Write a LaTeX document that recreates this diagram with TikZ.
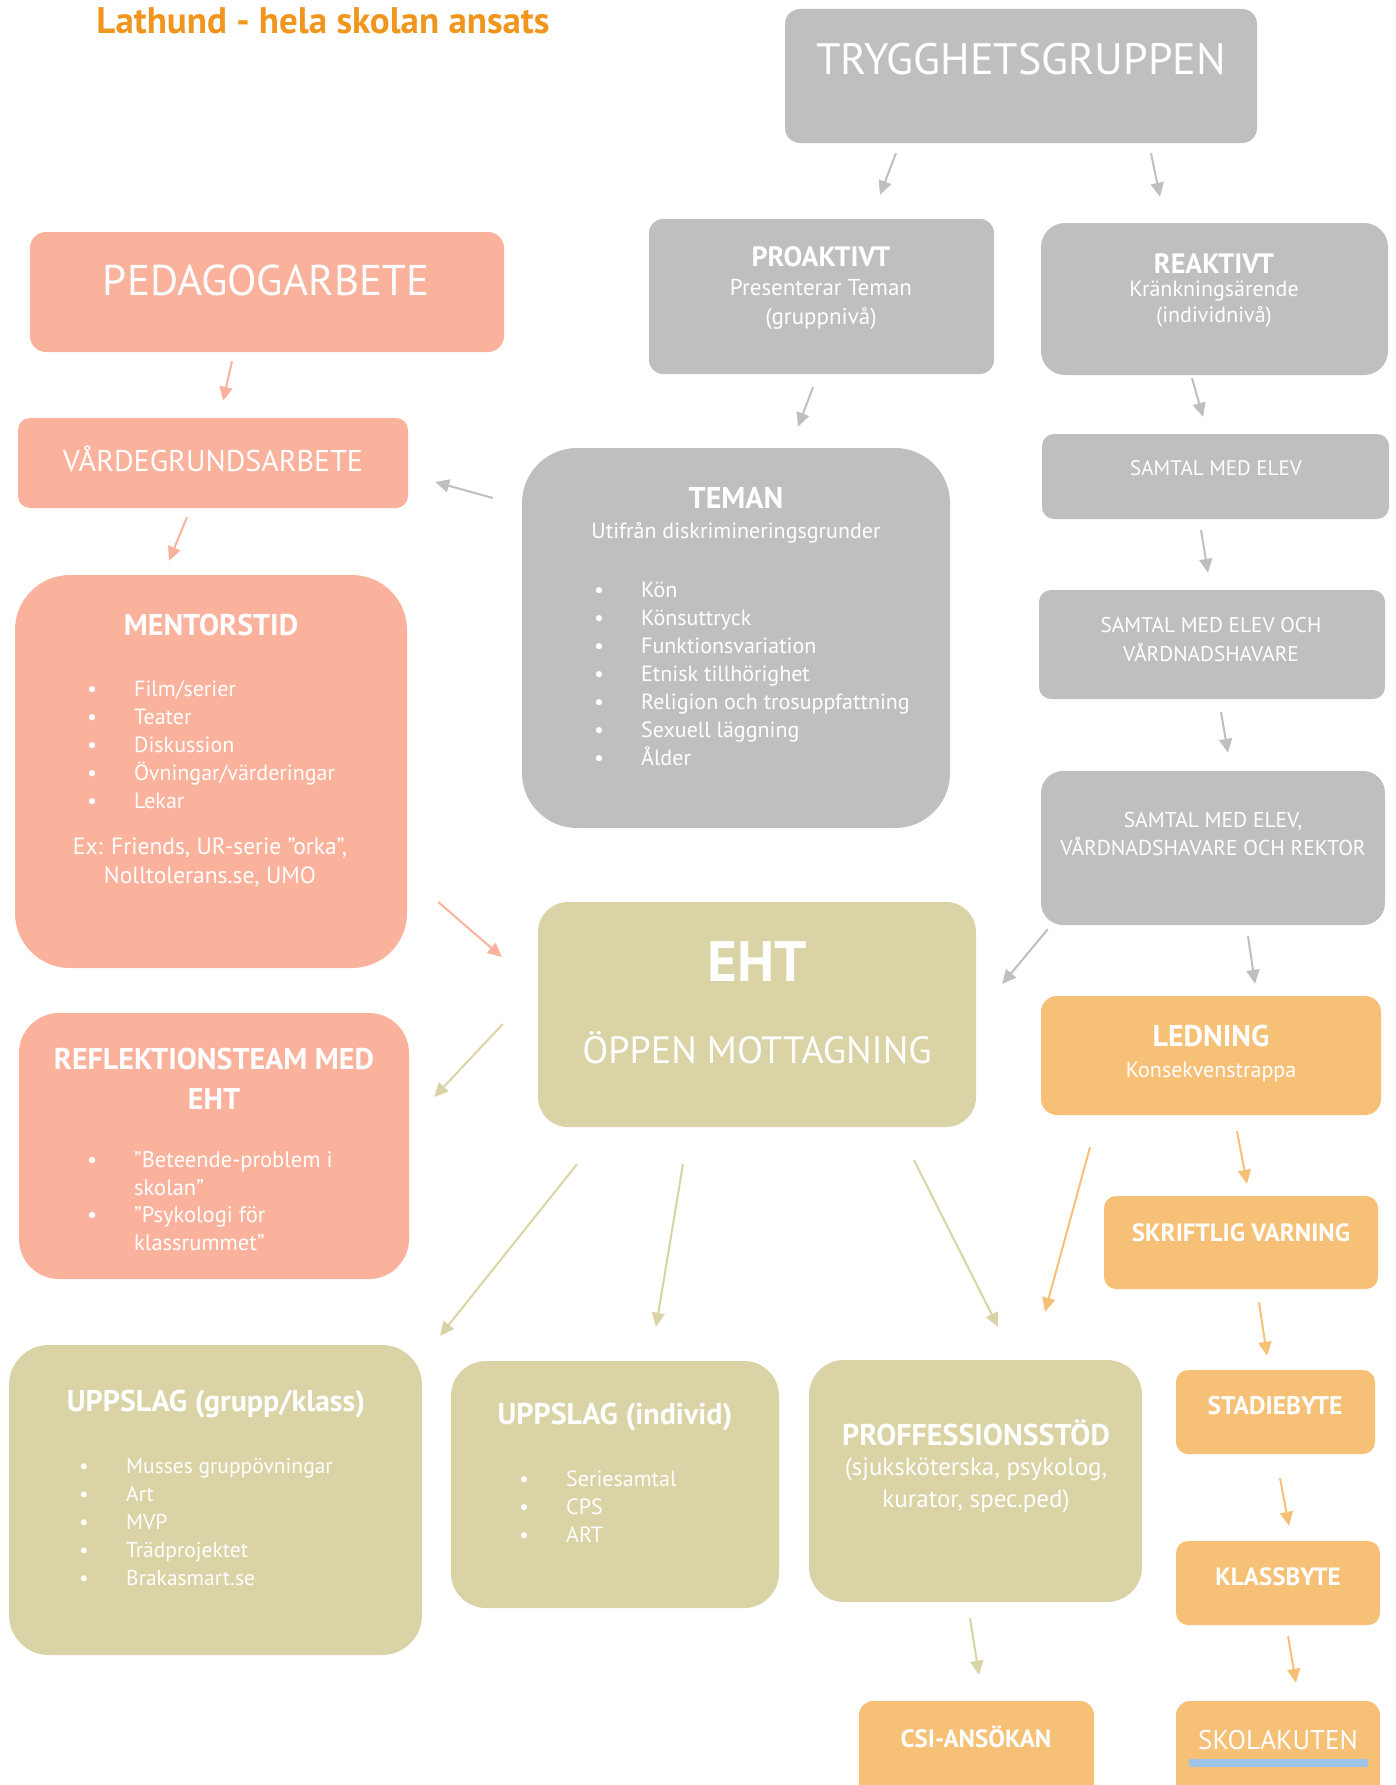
\documentclass[tikz,border=0pt]{standalone}
\usepackage{fontspec}
\setmainfont{PT Sans}
\usetikzlibrary{positioning,arrows.meta}

\definecolor{grau}{HTML}{BFBFBF}
\definecolor{lachs}{HTML}{FBB29D}
\definecolor{oliv}{HTML}{D9D3A6}
\definecolor{gelb}{HTML}{F6C177}
\definecolor{titel}{HTML}{F0961E}
\definecolor{balk}{HTML}{9DC3E6}

\newcommand{\bul}[1]{\makebox[47pt][l]{\textbullet}#1}

\tikzset{
	gbox/.style={fill=grau,inner sep=0pt},
	sbox/.style={fill=lachs,inner sep=0pt},
	obox/.style={fill=oliv,inner sep=0pt},
	ybox/.style={fill=gelb,inner sep=0pt},
	wtxt/.style={text=white,inner sep=0pt,align=center,font=\fontsize{22}{28}\selectfont},
	whead/.style={text=white,inner sep=0pt,align=center,font=\bfseries\fontsize{30}{34}\selectfont},
	wlist/.style={text=white,inner sep=0pt,align=left,anchor=west,font=\fontsize{22}{28}\selectfont},
	garr/.style={draw=grau,line width=2pt},
	sarr/.style={draw=lachs,line width=2pt},
	oarr/.style={draw=oliv,line width=2pt},
	yarr/.style={draw=gelb,line width=2pt}
}

\begin{document}
\begin{tikzpicture}[x=1pt,y=-1pt,>={Triangle[length=14pt,width=13pt]},->]
	\useasboundingbox (0,0) rectangle (1395,1785);

	% boxes
	\node[gbox,rounded corners=15pt,minimum width=472pt,minimum height=134pt]	(trygg)	at	(1021,76)		{};
	\node[gbox,rounded corners=14pt,minimum width=345pt,minimum height=155pt]	(proakt)	at	(821.5,296.5)	{};
	\node[gbox,rounded corners=24pt,minimum width=347pt,minimum height=152pt]	(reakt)	at	(1214.5,299)	{};
	\node[sbox,rounded corners=16pt,minimum width=474pt,minimum height=120pt]	(pedag)	at	(267,292)		{};
	\node[sbox,rounded corners=12pt,minimum width=390pt,minimum height=90pt]	(varde)	at	(213,463)		{};
	\node[gbox,rounded corners=55pt,minimum width=428pt,minimum height=380pt]	(teman)	at	(736,638)		{};
	\node[gbox,rounded corners=12pt,minimum width=347pt,minimum height=85pt]	(samt1)	at	(1215.5,476.5)	{};
	\node[gbox,rounded corners=12pt,minimum width=346pt,minimum height=109pt]	(samt2)	at	(1212,644.5)	{};
	\node[gbox,rounded corners=22pt,minimum width=344pt,minimum height=154pt]	(samt3)	at	(1213,848)		{};
	\node[sbox,rounded corners=55pt,minimum width=392pt,minimum height=393pt]	(mentor)	at	(211,771.5)		{};
	\node[obox,rounded corners=30pt,minimum width=438pt,minimum height=225pt]	(eht)	at	(757,1014.5)	{};
	\node[ybox,rounded corners=16pt,minimum width=340pt,minimum height=119pt]	(ledn)	at	(1211,1055.5)	{};
	\node[sbox,rounded corners=40pt,minimum width=390pt,minimum height=266pt]	(refl)	at	(214,1146)		{};
	\node[ybox,rounded corners=12pt,minimum width=274pt,minimum height=93pt]	(skrift)	at	(1241,1242.5)	{};
	\node[obox,rounded corners=40pt,minimum width=413pt,minimum height=310pt]	(uppg)	at	(215.5,1500)	{};
	\node[obox,rounded corners=35pt,minimum width=328pt,minimum height=247pt]	(uppi)	at	(615,1484.5)	{};
	\node[obox,rounded corners=35pt,minimum width=333pt,minimum height=242pt]	(proff)	at	(975.5,1481)	{};
	\node[ybox,rounded corners=12pt,minimum width=199pt,minimum height=84pt]	(stad)	at	(1275.5,1412)	{};
	\node[ybox,rounded corners=12pt,minimum width=204pt,minimum height=84pt]	(klass)	at	(1278,1583)		{};
	\node[ybox,rounded corners=14pt,minimum width=235pt,minimum height=110pt]	(csi)	at	(976.5,1756)	{};
	\node[ybox,rounded corners=14pt,minimum width=204pt,minimum height=110pt]	(skol)	at	(1278,1756)		{};

	% texts
	\node[inner sep=0pt,text=titel,font=\bfseries\fontsize{37}{40}\selectfont]	(titel)	at	(323,21)	{Lathund - hela skolan ansats};
	\node[wtxt,font=\fontsize{44}{50}\selectfont]	(trygg-t)	at	(1021,59)	{TRYGGHETSGRUPPEN};
	\node[whead,font=\bfseries\fontsize{28}{34}\selectfont]	(proakt-h)	at	(821,257)	{PROAKTIVT};
	\node[wtxt,font=\fontsize{23}{29}\selectfont]	(proakt-t)	at	(821,304.5)	{Presenterar Teman\\(gruppnivå)};
	\node[whead,font=\bfseries\fontsize{28}{34}\selectfont]	(reakt-h)	at	(1214,264)	{REAKTIVT};
	\node[wtxt,font=\fontsize{22}{26}\selectfont]	(reakt-t)	at	(1214,304)	{Kränkningsärende\\(individnivå)};
	\node[wtxt,font=\fontsize{43}{48}\selectfont]	(pedag-t)	at	(266,280)	{PEDAGOGARBETE};
	\node[wtxt,font=\fontsize{30}{32}\selectfont]	(varde-t)	at	(213,459)	{VÅRDEGRUNDSARBETE};
	\node[whead]	(teman-h)	at	(736,498)	{TEMAN};
	\node[wtxt]	(teman-t)	at	(736,533)	{Utifrån diskrimineringsgrunder};
	\node[wlist]	(teman-l)	at	(594,674)	{\bul{Kön}\\\bul{Könsuttryck}\\\bul{Funktionsvariation}\\\bul{Etnisk tillhörighet}\\\bul{Religion och trosuppfattning}\\\bul{Sexuell läggning}\\\bul{Ålder}};
	\node[wtxt,font=\fontsize{21}{29}\selectfont]	(samt1-t)	at	(1216,468)	{SAMTAL MED ELEV};
	\node[wtxt,font=\fontsize{21.3}{29}\selectfont]	(samt2-t)	at	(1211,639.5)	{SAMTAL MED ELEV OCH\\VÅRDNADSHAVARE};
	\node[wtxt,font=\fontsize{21.5}{28}\selectfont]	(samt3-t)	at	(1213,834)	{SAMTAL MED ELEV,\\VÅRDNADSHAVARE OCH REKTOR};
	\node[whead]	(mentor-h)	at	(211,625)	{MENTORSTID};
	\node[wlist]	(mentor-l)	at	(87,744.5)	{\bul{Film/serier}\\\bul{Teater}\\\bul{Diskussion}\\\bul{Övningar/värderingar}\\\bul{Lekar}};
	\node[wtxt,font=\fontsize{23.5}{29}\selectfont]	(mentor-t)	at	(210,862.5)	{Ex: Friends, UR-serie ”orka”,\\Nolltolerans.se, UMO};
	\node[wtxt,font=\bfseries\fontsize{57}{66}\selectfont]	(eht-h)	at	(757,962)	{EHT};
	\node[wtxt,font=\fontsize{38}{42}\selectfont]	(eht-t)	at	(757,1048)	{ÖPPEN MOTTAGNING};
	\node[whead]	(ledn-h)	at	(1211,1036)	{LEDNING};
	\node[wtxt]	(ledn-t)	at	(1211,1072)	{Konsekvenstrappa};
	\node[whead,font=\bfseries\fontsize{30}{40}\selectfont]	(refl-h)	at	(214,1079)	{REFLEKTIONSTEAM MED\\EHT};
	\node[wlist,font=\fontsize{22.5}{27.5}\selectfont]	(refl-l)	at	(87,1201)	{\bul{”Beteende-problem i}\\\hspace*{47pt}skolan”\\\bul{”Psykologi för}\\\hspace*{47pt}klassrummet”};
	\node[whead,font=\bfseries\fontsize{25}{28}\selectfont]	(skrift-t)	at	(1241,1233)	{SKRIFTLIG VARNING};
	\node[whead]	(uppg-h)	at	(216,1404)	{UPPSLAG (grupp/klass)};
	\node[wlist,font=\fontsize{21.5}{28}\selectfont]	(uppg-l)	at	(79,1522)	{\bul{Musses gruppövningar}\\\bul{Art}\\\bul{MVP}\\\bul{Trädprojektet}\\\bul{Brakasmart.se}};
	\node[whead]	(uppi-h)	at	(615,1417)	{UPPSLAG (individ)};
	\node[wlist]	(uppi-l)	at	(519,1507)	{\bul{Seriesamtal}\\\bul{CPS}\\\bul{ART}};
	\node[whead]	(proff-h)	at	(976,1433)	{PROFFESSIONSSTÖD};
	\node[wtxt,font=\fontsize{25}{32}\selectfont]	(proff-t)	at	(976,1485)	{(sjuksköterska, psykolog,\\kurator, spec.ped)};
	\node[whead,font=\bfseries\fontsize{25.5}{28}\selectfont]	(stad-t)	at	(1275,1406)	{STADIEBYTE};
	\node[whead,font=\bfseries\fontsize{25}{28}\selectfont]	(klass-t)	at	(1278,1577)	{KLASSBYTE};
	\node[whead,font=\bfseries\fontsize{25}{28}\selectfont]	(csi-t)	at	(976,1737)	{CSI-ANSÖKAN};
	\node[wtxt,font=\fontsize{27}{28}\selectfont]	(skol-t)	at	(1278,1740)	{SKOLAKUTEN};
	\fill[balk] (1189,1759) rectangle (1368,1767);

	% arrows
	\path	([shift={(-125,10)}]trygg.south)	edge[garr]	([shift={(58.5,-24)}]proakt.north);
	\path	([shift={(130,10)}]trygg.south)		edge[garr]	([shift={(-54.5,-26)}]reakt.north);
	\path	([shift={(-35,9)}]pedag.south)		edge[sarr]	([shift={(10,-17)}]varde.north);
	\path	([shift={(-26,9)}]varde.south)		edge[sarr]	([shift={(-42,-14)}]mentor.north);
	\path	([shift={(-8.5,13)}]proakt.south)	edge[garr]	([shift={(62,-21)}]teman.north);
	\path	([shift={(-29,-140)}]teman.west)	edge[garr]	([shift={(27,19)}]varde.east);
	\path	([shift={(-22.5,3)}]reakt.south)	edge[garr]	([shift={(-12.5,-17)}]samt1.north);
	\path	([shift={(-14.5,11)}]samt1.south)	edge[garr]	([shift={(-4,-17)}]samt2.north);
	\path	([shift={(9,13)}]samt2.south)		edge[garr]	([shift={(15,-18)}]samt3.north);
	\path	([shift={(7,4)}]samt3.south west)	edge[garr]	([shift={(26,-30.5)}]eht.east);
	\path	([shift={(35,11)}]samt3.south)		edge[garr]	([shift={(44,-12)}]ledn.north);
	\path	([shift={(31,130.5)}]mentor.east)	edge[sarr]	([shift={(-36,-57.5)}]eht.west);
	\path	([shift={(-35,9.5)}]eht.west)		edge[oarr]	([shift={(25,-49)}]refl.east);
	\path	([shift={(-180,37)}]eht.south)		edge[oarr]	([shift={(224.5,-9)}]uppg.north);
	\path	([shift={(-74,37)}]eht.south)		edge[oarr]	([shift={(41,-34)}]uppi.north);
	\path	([shift={(157,33)}]eht.south)		edge[oarr]	([shift={(22.5,-33)}]proff.north);
	\path	([shift={(-121,32)}]ledn.south)		edge[yarr]	([shift={(69.5,-48)}]proff.north);
	\path	([shift={(26,16)}]ledn.south)		edge[yarr]	([shift={(6,-12)}]skrift.north);
	\path	([shift={(18,13)}]skrift.south)		edge[yarr]	([shift={(-8.5,-14)}]stad.north);
	\path	([shift={(4.5,24)}]stad.south)		edge[yarr]	([shift={(11,-15)}]klass.north);
	\path	([shift={(10,11)}]klass.south)		edge[yarr]	([shift={(18,-18)}]skol.north);
	\path	([shift={(-5.5,16)}]proff.south)	edge[oarr]	([shift={(2.5,-26)}]csi.north);
\end{tikzpicture}
\end{document}
